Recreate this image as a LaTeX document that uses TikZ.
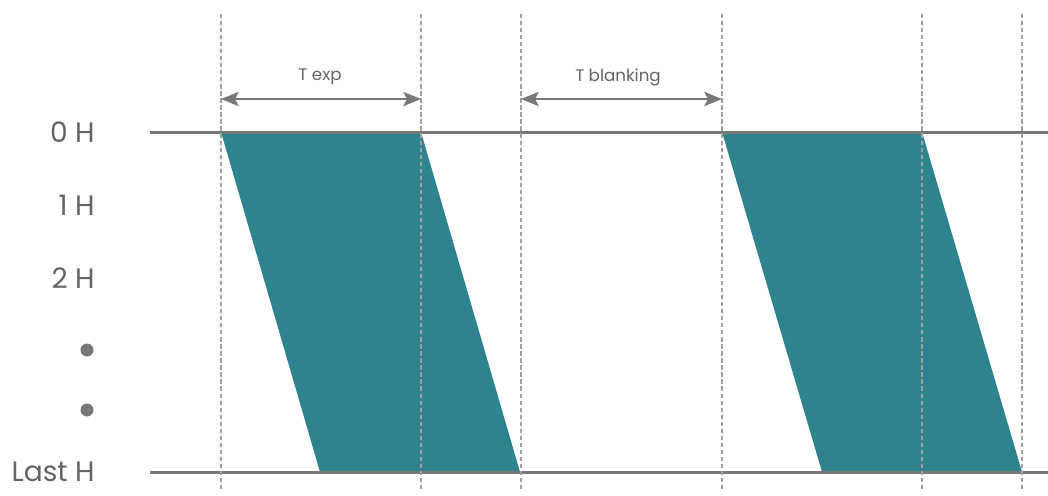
\documentclass[tikz,border=0pt]{standalone}
\usepackage{fontspec}
\setmainfont{Poppins}
\usetikzlibrary{arrows.meta}
\definecolor{rowteal}{RGB}{46,131,143}
\definecolor{linegray}{RGB}{120,120,120}
\definecolor{dashgray}{RGB}{160,160,160}
\definecolor{textgray}{RGB}{100,100,100}

\begin{document}
\begin{tikzpicture}[
        x=0.02cm, y=-0.02cm,
        rowlabel/.style={anchor=east, text=textgray, font=\fontsize{16}{18}\selectfont, inner sep=0pt},
        spanlabel/.style={text=textgray, font=\fontsize{9.5}{11}\selectfont, inner sep=0pt},
        timeline/.style={linegray, line width=1.7pt},
        gridline/.style={dashgray, line width=1pt, dash pattern=on 2.4pt off 1.6pt},
        spanarrow/.style={{Stealth[length=10pt,width=8pt,inset=2pt]}-{Stealth[length=10pt,width=8pt,inset=2pt]}, linegray, line width=1.6pt},
        frame/.style={fill=rowteal, draw=none}
    ]
        \useasboundingbox (0,0) rectangle (1048,495);

        % exposure frames, rows shifted line by line
        \fill[frame] (221,132) -- (421,132) -- (520,472) -- (320,472) -- cycle;
        \fill[frame] (722,132) -- (922,132) -- (1022,472) -- (822,472) -- cycle;

        % first and last row
        \draw[timeline] (150,132) -- (1048,132);
        \draw[timeline] (150,472) -- (1048,472);

        % timing marks
        \foreach \t/\x in {a/221, b/421, c/521, d/722, e/922, f/1022} {
            \coordinate (top-\t) at (\x,14);
            \coordinate (bot-\t) at (\x,490);
            \coordinate (arr-\t) at (\x,99);
            \draw[gridline] (top-\t) -- (bot-\t);
        }

        \node[rowlabel] (row0) at (95,132) {0 H};
        \node[rowlabel] (row1) at (95,205) {1 H};
        \node[rowlabel] (row2) at (95,278) {2 H};
        \fill[linegray] (87,350) circle (6.5);
        \fill[linegray] (87,410) circle (6.5);
        \node[rowlabel] (rowlast) at (95,472) {Last H};

        \draw[spanarrow] (arr-a) -- (arr-b);
        \draw[spanarrow] (arr-c) -- (arr-d);
        \node[spanlabel] (texp) at (320,77) {T exp};
        \node[spanlabel] (tblank) at (618,77) {T blanking};
    \end{tikzpicture}
\end{document}
